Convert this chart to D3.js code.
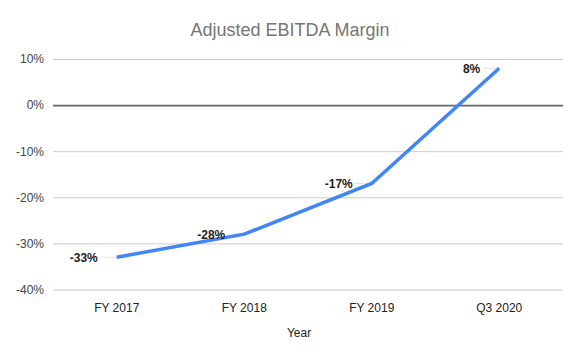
<!DOCTYPE html>
<html>
<head>
<meta charset="utf-8">
<script src="https://cdn.jsdelivr.net/npm/d3@7"></script>
<style>
  body { margin: 0; background: #fff; }
  text { font-family: "Liberation Sans", Arial, sans-serif; }
</style>
</head>
<body>
<script>
'use strict';

let categories = ['FY 2017', 'FY 2018', 'FY 2019', 'Q3 2020'];
let margins = [-33, -28, -17, 8];
let yTicks = [-40, -30, -20, -10, 0, 10];

let svgWidth = 580, svgHeight = 359;
let margin = { top: 59, right: 17, bottom: 69, left: 53 };

let xScale = d3.scaleBand()
  .domain(categories)
  .range([margin.left, svgWidth - margin.right])
  .padding(0);

let yScale = d3.scaleLinear()
  .domain([-40, 10])
  .range([svgHeight - margin.bottom - 0.5, margin.top]);

let chart = d3.select('body').append('svg')
  .attr('width', svgWidth)
  .attr('height', svgHeight);

// title
chart.append('text')
  .attr('x', 290).attr('y', 36)
  .attr('text-anchor', 'middle')
  .attr('font-size', 18)
  .attr('fill', '#757575')
  .text('Adjusted EBITDA Margin');

// gridlines + y labels
let yAxis = chart.append('g')
  .attr('transform', `translate(${margin.left},0)`)
  .call(d3.axisLeft(yScale).tickValues(yTicks).tickFormat(d => d + '%')
    .tickSize(-(svgWidth - margin.left - margin.right)).tickPadding(9));
yAxis.select('.domain').remove();
yAxis.selectAll('.tick line')
  .attr('stroke', d => d === 0 ? '#666' : '#ccc')
  .attr('stroke-width', d => d === 0 ? 1.6 : 1);
yAxis.selectAll('.tick text')
  .attr('font-size', 12).attr('fill', '#444')
  .style('font-family', '"Liberation Sans", Arial, sans-serif');

// x labels
let xAxis = chart.append('g')
  .attr('transform', `translate(0,${svgHeight - margin.bottom})`)
  .call(d3.axisBottom(xScale).tickSize(0).tickPadding(13));
xAxis.select('.domain').remove();
xAxis.selectAll('.tick text')
  .attr('font-size', 12).attr('fill', '#222')
  .style('font-family', '"Liberation Sans", Arial, sans-serif');

// axis title
chart.append('text')
  .attr('x', 299).attr('y', 337)
  .attr('text-anchor', 'middle')
  .attr('font-size', 12)
  .attr('fill', '#222')
  .text('Year');

let cx = d => xScale(d) + xScale.bandwidth() / 2;

let lineGen = d3.line()
  .x((d, i) => cx(categories[i]))
  .y(d => yScale(d));

// faint leader lines
chart.selectAll('.leader').data(margins).enter().append('line')
  .attr('class', 'leader')
  .attr('x1', (d, i) => cx(categories[i]) - 17)
  .attr('x2', (d, i) => cx(categories[i]))
  .attr('y1', d => yScale(d))
  .attr('y2', d => yScale(d))
  .attr('stroke', '#e4e4e4').attr('stroke-width', 1);

chart.append('path').datum(margins)
  .attr('fill', 'none')
  .attr('stroke', '#4285f4')
  .attr('stroke-width', 3.5)
  .attr('d', lineGen);

// data labels
chart.selectAll('.lbl').data(margins).enter().append('text')
  .attr('class', 'lbl')
  .attr('x', (d, i) => cx(categories[i]) - 19)
  .attr('y', d => yScale(d) + 4.5)
  .attr('text-anchor', 'end')
  .attr('font-size', 12)
  .attr('font-weight', 'bold')
  .attr('fill', '#222')
  .text(d => d + '%');
</script>
</body>
</html>
